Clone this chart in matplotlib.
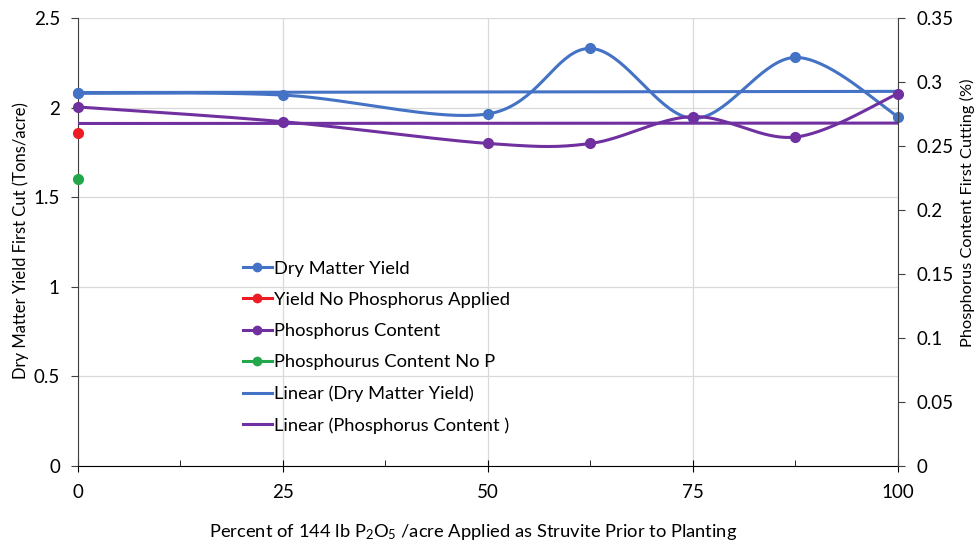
import numpy as np
import matplotlib
matplotlib.use("Agg")
import matplotlib.pyplot as plt
from matplotlib.lines import Line2D

plt.rcParams['font.family'] = ['Lato', 'DejaVu Sans']
plt.rcParams['mathtext.default'] = 'regular'

# data
pct_struvite = [0, 25, 50, 62.5, 75, 87.5, 100]
dry_matter_yield = [2.08, 2.07, 1.965, 2.33, 1.94, 2.28, 1.95]
phosphorus_content = [0.2805, 0.269, 0.252, 0.252, 0.273, 0.257, 0.291]
yield_no_p = [1.86]
p_content_no_p = [1.60]   # plotted against left axis in the original
no_p_x = [0]

BLUE = "#4472C4"
RED = "#ED1C24"
PURPLE = "#7030A0"
GREEN = "#22A84A"


def smooth(x, y, n=40):
    # Excel-style smoothed line (Catmull-Rom Bezier)
    x = np.asarray(x, float)
    y = np.asarray(y, float)
    P = np.column_stack([x, y])
    P = np.vstack([P[0], P, P[-1]])
    out = []
    t = np.linspace(0, 1, n)[:, None]
    for i in range(1, len(P) - 2):
        p0, p1, p2, p3 = P[i - 1], P[i], P[i + 1], P[i + 2]
        c1 = p1 + (p2 - p0) / 6
        c2 = p2 - (p3 - p1) / 6
        seg = ((1 - t) ** 3) * p1 + 3 * ((1 - t) ** 2) * t * c1 + 3 * (1 - t) * t ** 2 * c2 + t ** 3 * p2
        out.append(seg)
    s = np.vstack(out)
    return s[:, 0], s[:, 1]


fig = plt.figure(figsize=(9.77, 5.46), dpi=100)
ax = fig.add_axes([0.0798, 0.1465, 0.8393, 0.8205])
ax2 = ax.twinx()

# trend lines
xs = np.array([0, 100])
k1 = np.polyfit(pct_struvite, dry_matter_yield, 1)
k2 = np.polyfit(pct_struvite, phosphorus_content, 1)
ax.plot(xs, np.polyval(k1, xs), color=BLUE, lw=2.2, zorder=3)
ax2.plot(xs, np.polyval(k2, xs), color=PURPLE, lw=2.2, zorder=3)

sx, sy = smooth(pct_struvite, dry_matter_yield)
ax.plot(sx, sy, color=BLUE, lw=2.2, zorder=4)
ax.plot(pct_struvite, dry_matter_yield, 'o', color=BLUE, ms=7, zorder=4, clip_on=False)
ax.plot(no_p_x, yield_no_p, 'o', color=RED, ms=7, zorder=5, clip_on=False)
ax.plot(no_p_x, p_content_no_p, 'o', color=GREEN, ms=7, zorder=5, clip_on=False)

px, py = smooth(pct_struvite, phosphorus_content)
ax2.plot(px, py, color=PURPLE, lw=2.2, zorder=4)
ax2.plot(pct_struvite, phosphorus_content, 'o', color=PURPLE, ms=7, zorder=4, clip_on=False)
ax.plot(pct_struvite[:1], dry_matter_yield[:1], 'o', color=BLUE, ms=7, zorder=6, clip_on=False)

ax.set_xlim(0, 100)
ax.set_ylim(0, 2.5)
ax2.set_ylim(0, 0.35)
ax.set_xticks([0, 25, 50, 75, 100])
ax.set_xticks([12.5, 37.5, 62.5, 87.5], minor=True)
ax.set_yticks(np.arange(0, 2.51, 0.5))
ax.set_yticklabels(["0", "0.5", "1", "1.5", "2", "2.5"])
ax2.set_yticks(np.arange(0, 0.351, 0.05))
ax2.set_yticklabels(["0", "0.05", "0.1", "0.15", "0.2", "0.25", "0.3", "0.35"])

ax.grid(True, which='major', color="#D9D9D9", lw=0.9)
ax.set_axisbelow(True)
for a in (ax, ax2):
    a.spines['top'].set_visible(False)
ax.spines['left'].set_color("#404040")
ax2.spines['right'].set_color("#404040")
ax2.spines['left'].set_visible(False)
ax2.spines['bottom'].set_visible(False)
ax.spines['right'].set_visible(False)

ax.tick_params(axis='x', which='major', direction='inout', length=8, labelsize=13.5, pad=9)
ax.tick_params(axis='x', which='minor', direction='in', length=4)
ax.tick_params(axis='y', direction='out', length=5, labelsize=13.5, pad=8, color="#404040")
ax2.tick_params(axis='y', direction='out', length=5, labelsize=13.5, pad=8, color="#404040")

ax.set_xlabel("Percent of 144 lb P$_2$O$_5$ /acre Applied as Struvite Prior to Planting",
              fontsize=13.2)
ax.xaxis.set_label_coords(0.482, -0.125)
ax.set_ylabel("Dry Matter Yield First Cut (Tons/acre)", fontsize=12)
ax.yaxis.set_label_coords(-0.06, 0.504)
ax2.set_ylabel("Phosphorus Content First Cutting (%)", fontsize=11.8)
ax2.yaxis.set_label_coords(1.075, 0.565)

handles = [
    Line2D([], [], color=BLUE, lw=2.2, marker='o', ms=6),
    Line2D([], [], color=RED, lw=2.2, marker='o', ms=6),
    Line2D([], [], color=PURPLE, lw=2.2, marker='o', ms=6),
    Line2D([], [], color=GREEN, lw=2.2, marker='o', ms=6),
    Line2D([], [], color=BLUE, lw=2.2),
    Line2D([], [], color=PURPLE, lw=2.2),
]
labels = ["Dry Matter Yield", "Yield No Phosphorus Applied", "Phosphorus Content",
          "Phosphourus Content No P", "Linear (Dry Matter Yield)", "Linear (Phosphorus Content )"]
ax2.legend(handles, labels, loc='upper left', bbox_to_anchor=(0.192, 0.475), frameon=False,
           fontsize=13.2, handlelength=1.6, handletextpad=0.1, labelspacing=0.83, borderaxespad=0)

fig.savefig("out.png", dpi=100)
